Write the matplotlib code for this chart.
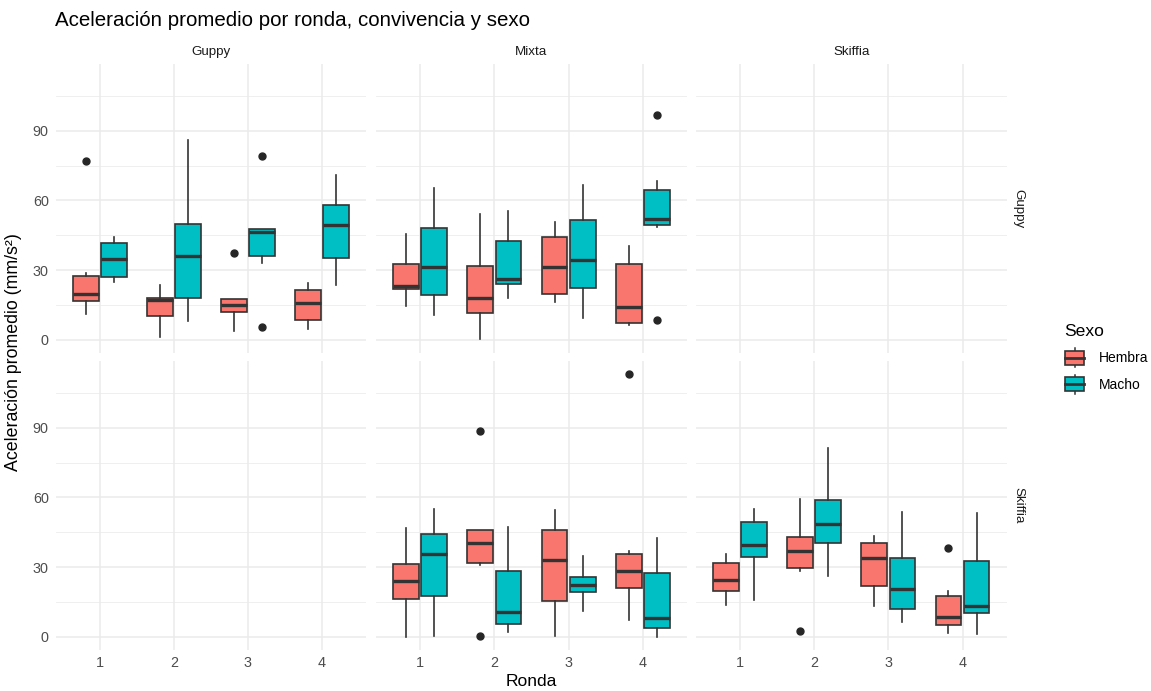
import matplotlib
matplotlib.use("Agg")
import matplotlib.pyplot as plt
from matplotlib.legend_handler import HandlerBase
from matplotlib.patches import Rectangle, Patch
from matplotlib.lines import Line2D

plt.rcParams['font.family'] = ['Liberation Sans', 'DejaVu Sans']

# ---------------- data ----------------
rondas = [1, 2, 3, 4]
sexos = ["Hembra", "Macho"]
sexo_colors = ["#F8766D", "#00BFC4"]
col_facets = ["Guppy", "Mixta", "Skiffia"]
row_facets = ["Guppy", "Skiffia"]

# box summaries per ronda: [whisker low, q1, median, q3, whisker high]
# Row Guppy / Column Guppy
GG_hembra = [[11.3, 16.8, 19.9, 27.4, 28.9], [1.2, 10.4, 17.0, 18.2, 23.7],
             [3.8, 11.8, 15.2, 17.6, 17.6], [4.8, 8.7, 16.0, 21.4, 24.3]]
GG_hembra_out = [[77.0], [], [37.4], []]
GG_macho = [[24.7, 27.0, 34.8, 41.8, 44.1], [8.1, 18.2, 36.3, 49.7, 86.2],
            [32.9, 36.0, 46.5, 47.8, 47.8], [23.5, 35.1, 49.6, 58.1, 71.1]]
GG_macho_out = [[], [], [79.3, 5.6], []]

# Row Guppy / Column Mixta
GM_hembra = [[14.4, 21.8, 23.3, 32.6, 45.7], [0.3, 11.7, 17.9, 31.9, 54.2],
             [16.2, 19.9, 31.5, 44.1, 50.9], [6.6, 7.4, 14.2, 32.6, 40.3]]
GM_hembra_out = [[], [], [], []]
GM_macho = [[10.5, 19.5, 31.5, 48.1, 65.4], [18.2, 24.1, 26.1, 42.6, 55.3],
            [9.5, 22.4, 34.2, 51.6, 66.7], [48.5, 49.3, 51.9, 64.7, 68.5]]
GM_macho_out = [[], [], [], [96.9, 8.7]]

# Row Skiffia / Column Mixta
SM_hembra = [[0.0, 16.2, 24.0, 31.5, 46.7], [30.8, 31.9, 40.2, 45.9, 46.2],
             [0.3, 15.3, 33.2, 45.9, 54.6], [7.2, 21.2, 28.3, 35.5, 36.8]]
SM_hembra_out = [[], [88.8, 0.4], [], [113.1]]
SM_macho = [[0.3, 17.8, 35.8, 44.1, 55.2], [1.9, 5.6, 10.5, 28.5, 47.1],
            [11.3, 19.5, 22.4, 25.7, 34.8], [0.1, 3.8, 8.1, 27.6, 42.6]]
SM_macho_out = [[], [], [], []]

# Row Skiffia / Column Skiffia
SS_hembra = [[13.9, 19.9, 24.6, 31.9, 35.7], [28.3, 29.8, 37.0, 42.8, 59.5],
             [13.4, 21.8, 33.8, 40.3, 43.5], [1.6, 5.2, 8.4, 17.5, 19.6]]
SS_hembra_out = [[], [2.6], [], [38.1]]
SS_macho = [[15.9, 34.4, 39.7, 49.3, 54.9], [26.3, 40.5, 48.7, 58.9, 81.2],
            [6.5, 12.1, 20.5, 33.8, 53.9], [1.2, 10.3, 13.4, 32.5, 53.2]]
SS_macho_out = [[], [], [], []]

panels = {
    (0, 0): [(GG_hembra, GG_hembra_out), (GG_macho, GG_macho_out)],
    (0, 1): [(GM_hembra, GM_hembra_out), (GM_macho, GM_macho_out)],
    (1, 1): [(SM_hembra, SM_hembra_out), (SM_macho, SM_macho_out)],
    (1, 2): [(SS_hembra, SS_hembra_out), (SS_macho, SS_macho_out)],
}

# ---------------- layout ----------------
W, H = 1151, 691
fig = plt.figure(figsize=(W / 100, H / 100), dpi=100)
fig.patch.set_facecolor("white")

col_px = [(55.6, 366.4), (375.6, 687.4), (695.5, 1007.0)]
row_px = [(64.0, 353.0), (361.0, 650.0)]

# shared y range, ggplot-like 5% expansion
allv = []
for prs in panels.values():
    for stats, outs in prs:
        for s in stats:
            allv += s
        for o in outs:
            allv += o
vmin, vmax = min(allv), max(allv)
pad = 0.05 * (vmax - vmin)
ylim = (vmin - pad, vmax + pad)

edge = "#333333"
grid_c = "#EBEBEB"
offsets = [-0.19, 0.19]
box_w = 0.345

for ri in range(2):
    for ci in range(3):
        x0, x1 = col_px[ci]
        t0, t1 = row_px[ri]
        ax = fig.add_axes([x0 / W, 1 - t1 / H, (x1 - x0) / W, (t1 - t0) / H])
        ax.set_facecolor("white")
        for sp in ax.spines.values():
            sp.set_visible(False)
        ax.set_xlim(0.4, 4.6)
        ax.set_ylim(*ylim)
        ax.set_xticks(rondas)
        ax.set_yticks([0, 30, 60, 90])
        ax.set_yticks([15, 45, 75, 105], minor=True)
        ax.set_axisbelow(True)
        ax.grid(True, which="major", color=grid_c, linewidth=1.1)
        ax.grid(True, which="minor", axis="y", color=grid_c, linewidth=0.55)
        ax.tick_params(which="both", length=0, labelsize=10.4, labelcolor="#4D4D4D")
        ax.tick_params(axis="x", pad=4)
        ax.tick_params(axis="y", pad=5)
        if ci != 0:
            ax.set_yticklabels([])
        else:
            ax.set_yticklabels(["0", "30", "60", "90"])
        if ri != 1:
            ax.set_xticklabels([])
        else:
            ax.set_xticklabels([str(r) for r in rondas])

        if (ri, ci) in panels:
            for si, (stats, outs) in enumerate(panels[(ri, ci)]):
                bstats = []
                for s, o in zip(stats, outs):
                    bstats.append(dict(whislo=s[0], q1=s[1], med=s[2], q3=s[3],
                                       whishi=s[4], fliers=o))
                pos = [r + offsets[si] for r in rondas]
                ax.bxp(bstats, positions=pos, widths=box_w, patch_artist=True,
                       showcaps=False, manage_ticks=False,
                       boxprops=dict(facecolor=sexo_colors[si], edgecolor=edge, linewidth=1.2),
                       whiskerprops=dict(color=edge, linewidth=1.2),
                       medianprops=dict(color=edge, linewidth=2.4, solid_capstyle="butt"),
                       flierprops=dict(marker="o", markerfacecolor="#262626",
                                       markeredgecolor="#262626", markersize=5))

# strip labels
for ci, name in enumerate(col_facets):
    x0, x1 = col_px[ci]
    fig.text((x0 + x1) / 2 / W, 1 - 52 / H, name, ha="center", va="center",
             fontsize=9.6, color="#1A1A1A")
for ri, name in enumerate(row_facets):
    t0, t1 = row_px[ri]
    fig.text(1018 / W, 1 - (t0 + t1) / 2 / H, name, ha="center", va="center",
             rotation=-90, fontsize=9.6, color="#1A1A1A")

# titles
fig.text(55 / W, 1 - 26 / H, "Aceleración promedio por ronda, convivencia y sexo",
         ha="left", va="baseline", fontsize=14.8, color="black")
fig.text(14 / W, 1 - 352 / H, "Aceleración promedio (mm/s²)", rotation=90,
         ha="center", va="center", fontsize=12.8, color="black")
fig.text(531 / W, 1 - 682 / H, "Ronda", ha="center", va="center",
         fontsize=12.6, color="black")


# legend with boxplot glyphs
class BoxHandler(HandlerBase):
    def create_artists(self, legend, orig_handle, xdescent, ydescent,
                       width, height, fontsize, trans):
        fc = orig_handle.get_facecolor()
        cx = -xdescent + width / 2
        bottom = -ydescent
        bw = width * 0.85
        vline = Line2D([cx, cx], [bottom - 0.2 * height, bottom + 1.2 * height],
                       color=edge, linewidth=1.1, transform=trans)
        rect = Rectangle((cx - bw / 2, bottom), bw, height,
                         facecolor=fc, edgecolor=edge, linewidth=1.2, transform=trans)
        med = Line2D([cx - bw / 2, cx + bw / 2], [bottom + 0.5 * height] * 2,
                     color=edge, linewidth=2.0, transform=trans)
        return [vline, rect, med]


handles = [Patch(facecolor=c, edgecolor=edge) for c in sexo_colors]
leg = fig.legend(handles, sexos, handler_map={Patch: BoxHandler()},
                 loc="center left", bbox_to_anchor=(1054 / W, 1 - 358 / H),
                 bbox_transform=fig.transFigure, frameon=False,
                 title="Sexo", fontsize=10, title_fontsize=12.6,
                 handlelength=1.6, handleheight=1.15, labelspacing=0.85,
                 handletextpad=0.9, borderpad=0.2, alignment="left")

fig.savefig("out.png", dpi=100, facecolor="white")
